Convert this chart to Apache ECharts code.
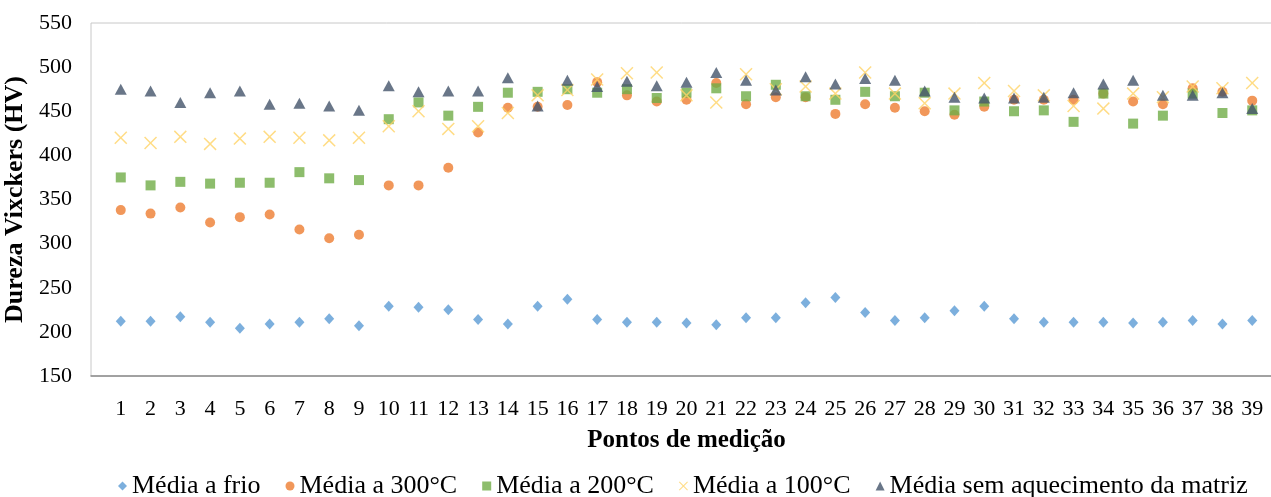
<!DOCTYPE html>
<html>
<head>
<meta charset="utf-8">
<script src="https://cdn.jsdelivr.net/npm/echarts@6/dist/echarts.min.js"></script>
<style>html,body{margin:0;padding:0;background:#fff;}#c{width:1271px;height:497px;}</style>
</head>
<body>
<div id="c"></div>
<script>
var pontos = [1,2,3,4,5,6,7,8,9,10,11,12,13,14,15,16,17,18,19,20,21,22,23,24,25,26,27,28,29,30,31,32,33,34,35,36,37,38,39];
var yTicks = [150,200,250,300,350,400,450,500,550];
var frio = [212,212,217,211,204,209,211,215,207,229,228,225,214,209,229,237,214,211,211,210,208,216,216,233,239,222,213,216,224,229,215,211,211,211,210,211,213,209,213];
var c300 = [338,334,341,324,330,333,316,306,310,366,366,386,426,454,455,457,483,468,461,463,482,458,466,466,447,458,454,450,446,455,463,463,463,470,461,458,476,472,462];
var c200 = [375,366,370,368,369,369,381,374,372,441,460,445,455,471,472,475,471,475,465,471,476,467,480,467,463,472,467,471,451,461,450,451,438,470,436,445,470,448,451];
var c100 = [420,414,421,413,419,421,420,417,420,433,450,430,433,448,468,474,486,493,494,468,460,492,475,478,470,494,470,459,470,482,473,468,456,453,470,466,478,476,482];
var semAq = [475,473,460,471,473,458,459,456,451,479,472,473,473,488,456,485,478,484,479,483,494,485,474,489,481,487,485,473,466,465,465,466,471,481,485,468,468,471,453];

var names = ['Média a frio','Média a 300°C','Média a 200°C','Média a 100°C','Média sem aquecimento da matriz'];
var xPath = 'path://M0,0.8 L0.8,0 L5,4.2 L9.2,0 L10,0.8 L5.8,5 L10,9.2 L9.2,10 L5,5.8 L0.8,10 L0,9.2 L4.2,5 Z';

function pairs(arr){ return arr.map(function(v,i){ return [pontos[i], v]; }); }

var FONT = '"Liberation Serif","Times New Roman",serif';
var chart = echarts.init(document.getElementById('c'), null, {renderer:'canvas'});
chart.setOption({
  animation:false,
  backgroundColor:'#fff',
  grid:{left:91, right:-11, top:23, bottom:121, show:true, borderColor:'#C8C8C8', borderWidth:1,
        backgroundColor:'transparent', containLabel:false, outerBoundsMode:'none'},
  xAxis:{
    type:'value', min:0, max:40, interval:1,
    name:'Pontos de medição', nameLocation:'middle', nameGap:52,
    nameTextStyle:{fontFamily:FONT, fontWeight:'bold', fontSize:25, color:'#000'},
    axisLine:{show:true, onZero:false, lineStyle:{color:'#8C8C8C', width:1.5}},
    axisTick:{show:false},
    splitLine:{show:false},
    axisLabel:{fontFamily:FONT, fontSize:22, color:'#000', margin:22,
      formatter:function(v){ return pontos.indexOf(v) >= 0 ? String(v) : ''; }}
  },
  yAxis:{
    type:'value', min:yTicks[0], max:yTicks[yTicks.length-1], interval:50,
    name:'Dureza Vixckers (HV)', nameLocation:'middle', nameGap:48,
    nameTextStyle:{fontFamily:FONT, fontWeight:'bold', fontSize:26, color:'#000'},
    axisLine:{show:false}, axisTick:{show:false}, splitLine:{show:false},
    axisLabel:{fontFamily:FONT, fontSize:22, color:'#000', margin:19}
  },
  legend:{
    top:468, left:113, itemGap:25, itemWidth:9, itemHeight:9,
    textStyle:{fontFamily:FONT, fontSize:26, color:'#000'},
    data:names
  },
  series:[
    {name:names[0], type:'scatter', data:pairs(frio), symbol:'diamond', symbolSize:[10,11], itemStyle:{color:'#5B9BD5'}},
    {name:names[1], type:'scatter', data:pairs(c300), symbol:'circle', symbolSize:10, itemStyle:{color:'#ED7D31'}},
    {name:names[2], type:'scatter', data:pairs(c200), symbol:'rect', symbolSize:10, itemStyle:{color:'#70AD47'}},
    {name:names[3], type:'scatter', data:pairs(c100), symbol:xPath, symbolSize:13, itemStyle:{color:'#FFD366'}},
    {name:names[4], type:'scatter', data:pairs(semAq), symbol:'triangle', symbolSize:[12,11], itemStyle:{color:'#44546A'}}
  ]
});
</script>
</body>
</html>
